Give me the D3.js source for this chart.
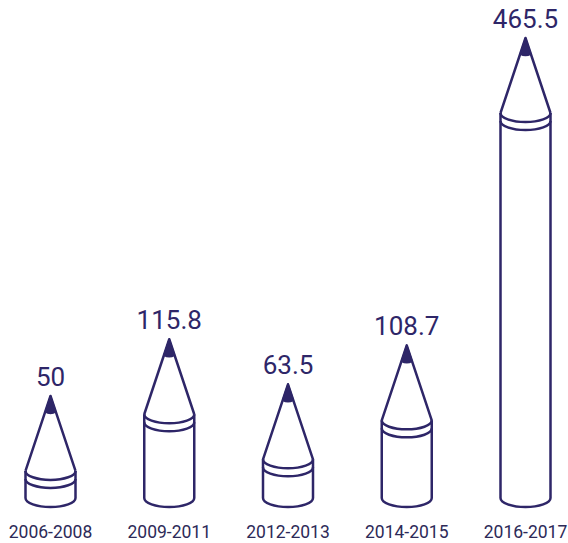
<!DOCTYPE html>
<html>
<head>
<meta charset="utf-8">
<script src="https://cdn.jsdelivr.net/npm/d3@7"></script>
<style>
  body { margin: 0; background: #fff; }
  svg { display: block; font-family: Roboto, sans-serif; }
</style>
</head>
<body>
<div id="chart"></div>
<script>
var categories = ['2006-2008', '2009-2011', '2012-2013', '2014-2015', '2016-2017'];
var values = [50, 115.8, 63.5, 108.7, 465.5];
var valueLabels = ['50', '115.8', '63.5', '108.7', '465.5'];

var width = 568, height = 543;
var ink = '#2e2668';
var penW = 50;       // pencil width
var coneH = 75;      // tip to cone base
var ry = 9;          // ellipse radius for the round ends
var bottom = 498;    // where the body's round bottom starts

var x = d3.scalePoint().domain(categories).range([50.5, 525.5]);
var y = d3.scaleLinear().domain([0, d3.max(values)]).range([439, 38]);

var svg = d3.select('#chart').append('svg')
  .attr('width', width)
  .attr('height', height);

var data = categories.map(function (c, i) {
  return {cat: c, value: values[i], label: valueLabels[i]};
});

var pencil = svg.selectAll('.pencil')
  .data(data)
  .enter().append('g')
  .attr('class', 'pencil')
  .attr('transform', function (d) { return 'translate(' + x(d.cat) + ',0)'; });

var h = penW / 2;

function arc(yy) {
  return 'M' + (-h) + ',' + yy + ' A' + h + ',' + ry + ' 0 0 0 ' + h + ',' + yy;
}

// body outline with round bottom
pencil.append('path')
  .attr('d', function (d) {
    var c = y(d.value) + coneH;
    return 'M' + (-h) + ',' + c + ' L' + (-h) + ',' + bottom +
      ' A' + h + ',' + ry + ' 0 0 0 ' + h + ',' + bottom +
      ' L' + h + ',' + c;
  })
  .attr('fill', 'none')
  .attr('stroke', ink)
  .attr('stroke-width', 2.5)
  .attr('stroke-linejoin', 'round');

// top rim and band
pencil.append('path')
  .attr('d', function (d) {
    var c = y(d.value) + coneH;
    return arc(c) + ' ' + arc(c + 8);
  })
  .attr('fill', 'none')
  .attr('stroke', ink)
  .attr('stroke-width', 2.5);

// cone
pencil.append('path')
  .attr('d', function (d) {
    var t = y(d.value);
    return 'M' + (-h) + ',' + (t + coneH) + ' L0,' + t + ' L' + h + ',' + (t + coneH);
  })
  .attr('fill', 'none')
  .attr('stroke', ink)
  .attr('stroke-width', 2.5)
  .attr('stroke-linejoin', 'round');

// lead
pencil.append('path')
  .attr('d', function (d) {
    var t = y(d.value);
    var lh = 16, lw = h * lh / coneH;
    return 'M0,' + t + ' L' + (-lw) + ',' + (t + lh) +
      ' Q0,' + (t + lh + 3) + ' ' + lw + ',' + (t + lh) + ' Z';
  })
  .attr('fill', ink)
  .attr('stroke', ink)
  .attr('stroke-width', 1.5)
  .attr('stroke-linejoin', 'round');

// value labels
pencil.append('text')
  .attr('y', function (d) { return y(d.value) - 10; })
  .attr('text-anchor', 'middle')
  .style('font-size', '26px')
  .attr('fill', ink)
  .text(function (d) { return d.label; });

// category labels
pencil.append('text')
  .attr('y', 538)
  .attr('text-anchor', 'middle')
  .style('font-size', '17.5px')
  .attr('fill', '#2d2a58')
  .text(function (d) { return d.cat; });
</script>
</body>
</html>
